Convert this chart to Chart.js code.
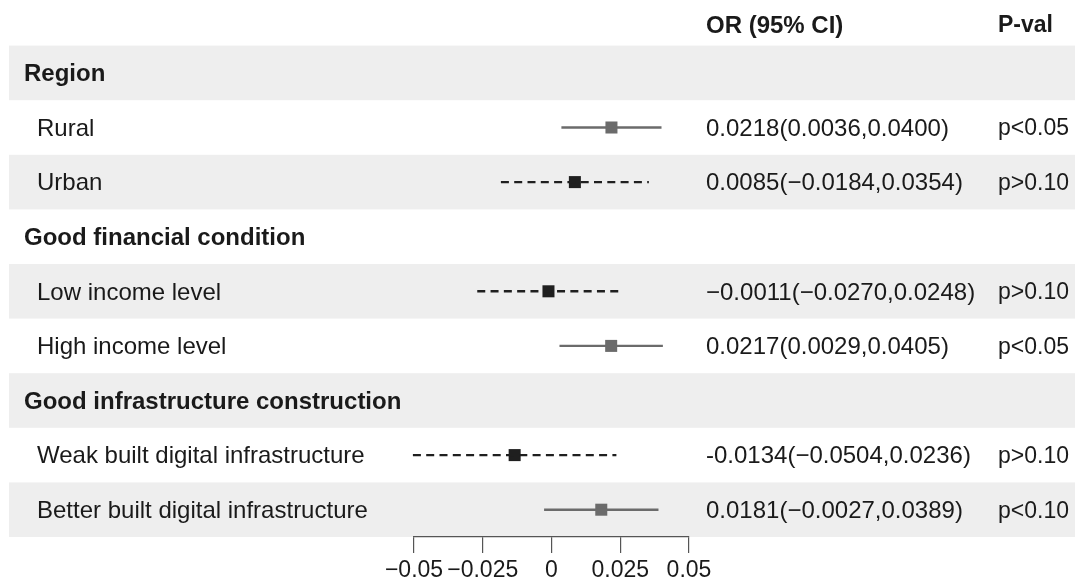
<!DOCTYPE html>
<html>
<head>
<meta charset="utf-8">
<script src="https://cdn.jsdelivr.net/npm/chart.js@4.4.1/dist/chart.umd.min.js"></script>
<style>
  html, body { margin: 0; padding: 0; background: #ffffff; }
  #wrap { width: 1075px; height: 583px; position: relative; }
</style>
</head>
<body>
<div id="wrap"><canvas id="forest"></canvas></div>
<script>
// Forest plot rows (top to bottom)
const rowLabels = [
  'Region', 'Rural', 'Urban',
  'Good financial condition', 'Low income level', 'High income level',
  'Good infrastructure construction', 'Weak built digital infrastructure', 'Better built digital infrastructure'
];
const isGroup = [true, false, false, true, false, false, true, false, false];
const estimate = [null, 0.0218, 0.0085, null, -0.0011, 0.0217, null, -0.0134, 0.0181];
const lowerCI  = [null, 0.0036, -0.0184, null, -0.0270, 0.0029, null, -0.0504, -0.0027];
const upperCI  = [null, 0.0400, 0.0354, null, 0.0248, 0.0405, null, 0.0236, 0.0389];
const orText = [
  '', '0.0218(0.0036,0.0400)', '0.0085(\u22120.0184,0.0354)',
  '', '\u22120.0011(\u22120.0270,0.0248)', '0.0217(0.0029,0.0405)',
  '', '-0.0134(\u22120.0504,0.0236)', '0.0181(\u22120.0027,0.0389)'
];
const pText = ['', 'p<0.05', 'p>0.10', '', 'p>0.10', 'p<0.05', '', 'p>0.10', 'p<0.10'];
const columnHeaders = ['OR (95% CI)', 'P-val'];
const xTickValues = [-0.05, -0.025, 0, 0.025, 0.05];
const xTickLabels = ['\u22120.05', '\u22120.025', '0', '0.025', '0.05'];

const FONT = "'Liberation Sans', Arial, Helvetica, sans-serif";
const TEXT = '#1a1a1a';
const BAND = '#eeeeee';
const SIG_COLOR = '#6b6b6b';
const NS_COLOR = '#1f1f1f';

const isSig = pText.map(p => p.startsWith('p<'));

// one CI segment per estimate row, then the point estimates
const datasets = [];
rowLabels.forEach((lab, i) => {
  if (estimate[i] === null) return;
  datasets.push({
    type: 'scatter',
    showLine: true,
    data: [{ x: lowerCI[i], y: i + 1 }, { x: upperCI[i], y: i + 1 }],
    borderColor: isSig[i] ? SIG_COLOR : NS_COLOR,
    borderWidth: 2.4,
    borderDash: isSig[i] ? [] : [8, 5.3],
    pointRadius: 0,
    clip: false
  });
});
const pointRows = rowLabels.map((l, i) => i).filter(i => estimate[i] !== null);
datasets.push({
  type: 'scatter',
  data: pointRows.map(i => ({ x: estimate[i], y: i + 1 })),
  pointStyle: 'rect',
  pointRadius: 8.5,
  pointBackgroundColor: pointRows.map(i => isSig[i] ? SIG_COLOR : NS_COLOR),
  pointBorderColor: pointRows.map(i => isSig[i] ? SIG_COLOR : NS_COLOR),
  pointBorderWidth: 0,
  clip: false
});

const tablePlugin = {
  id: 'forestTable',
  beforeDraw(chart) {
    const { ctx, scales: { y } } = chart;
    ctx.save();
    ctx.fillStyle = BAND;
    rowLabels.forEach((l, i) => {
      if (i % 2 !== 0) return;
      const top = y.getPixelForValue(i + 0.5);
      const bot = y.getPixelForValue(i + 1.5);
      ctx.fillRect(9, top, chart.width - 9, bot - top);
    });
    ctx.restore();
  },
  afterDraw(chart) {
    const { ctx, scales: { y } } = chart;
    ctx.save();
    ctx.fillStyle = TEXT;
    ctx.textBaseline = 'middle';
    ctx.textAlign = 'left';
    ctx.font = `bold 24px ${FONT}`;
    ctx.fillText(columnHeaders[0], 706, 26);
    ctx.font = `bold 23px ${FONT}`;
    ctx.fillText(columnHeaders[1], 998, 26);
    rowLabels.forEach((lab, i) => {
      const cy = y.getPixelForValue(i + 1) + 1.6;
      if (isGroup[i]) {
        ctx.font = `bold 24px ${FONT}`;
        ctx.fillText(lab, 24, cy);
      } else {
        ctx.font = `24px ${FONT}`;
        ctx.fillText(lab, 37, cy);
        ctx.fillText(orText[i], 706, cy);
        ctx.font = `23px ${FONT}`;
        ctx.fillText(pText[i], 998, cy);
      }
    });
    ctx.restore();
  }
};

new Chart(document.getElementById('forest'), {
  type: 'scatter',
  data: { datasets },
  options: {
    responsive: true,
    maintainAspectRatio: false,
    animation: false,
    events: [],
    layout: { padding: { left: 414, right: 386, top: 45.6, bottom: 0 } },
    plugins: { legend: { display: false }, tooltip: { enabled: false } },
    scales: {
      x: {
        type: 'linear',
        min: -0.05,
        max: 0.05,
        afterBuildTicks(scale) { scale.ticks = xTickValues.map(v => ({ value: v })); },
        afterFit(scale) { scale.height = 46; },
        ticks: {
          autoSkip: false,
          maxRotation: 0,
          padding: 4,
          color: TEXT,
          font: { family: FONT, size: 23 },
          callback: (v, i) => xTickLabels[i]
        },
        grid: { drawOnChartArea: false, drawTicks: true, tickLength: 16, color: '#555555', lineWidth: 1.2 },
        border: { display: true, color: '#555555', width: 1.2 }
      },
      y: {
        type: 'linear',
        reverse: true,
        min: 0.5,
        max: 9.5,
        display: false
      }
    }
  },
  plugins: [tablePlugin]
});
</script>
</body>
</html>
